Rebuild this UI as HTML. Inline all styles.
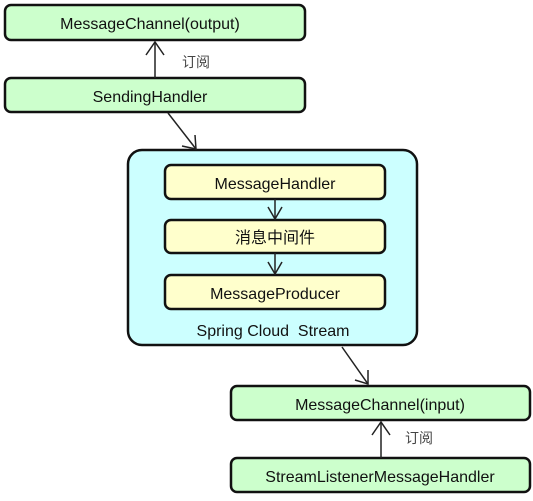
<!DOCTYPE html>
<html><head><style>
body{margin:0;width:533px;height:496px;background:#fff;overflow:hidden}
svg text{font-family:"Liberation Sans","Noto Sans CJK SC",sans-serif;font-size:16px;fill:#111}
</style></head><body>
<svg width="533" height="496" viewBox="0 0 533 496">
<g stroke="#111" stroke-width="2.5">
<rect x="5" y="5" width="300" height="35" rx="6" fill="#ccffcc"/>
<rect x="5" y="78" width="300" height="34" rx="6" fill="#ccffcc"/>
<rect x="128" y="150" width="289" height="195" rx="14" fill="#ccffff"/>
<rect x="165" y="165" width="220" height="34" rx="6" fill="#ffffcc"/>
<rect x="165" y="220" width="220" height="33" rx="6" fill="#ffffcc"/>
<rect x="165" y="275" width="220" height="34" rx="6" fill="#ffffcc"/>
<rect x="231" y="386" width="299" height="34" rx="6" fill="#ccffcc"/>
<rect x="231" y="458" width="299" height="34" rx="6" fill="#ccffcc"/>
</g>
<g stroke="#222" stroke-width="1.5" fill="none">
<line x1="155" y1="78" x2="155" y2="42"/><polyline points="146,55 155,42 164,55"/>
<line x1="168" y1="113" x2="196" y2="149"/><polyline points="182,146 196,149 195,135"/>
<line x1="275" y1="199" x2="275" y2="219"/><polyline points="268,207 275,219 282,207"/>
<line x1="275" y1="253" x2="275" y2="274"/><polyline points="268,262 275,274 282,262"/>
<line x1="342" y1="347" x2="368" y2="384"/><polyline points="355,380 368,384 368,370"/>
<line x1="381" y1="458" x2="381" y2="422"/><polyline points="372,435 381,422 390,435"/>
</g>
<g text-anchor="middle">
<text x="150" y="29">MessageChannel(output)</text>
<text x="150" y="102">SendingHandler</text>
<text x="275" y="189">MessageHandler</text>
<text x="275" y="243" fill="#333">消息中间件</text>
<text x="275" y="299">MessageProducer</text>
<text x="273" y="336">Spring Cloud&#160;&#160;Stream</text>
<text x="380" y="410">MessageChannel(input)</text>
<text x="380" y="482">StreamListenerMessageHandler</text>
</g>
<text x="182" y="67" style="font-size:14px;fill:#444">订阅</text>
<text x="405" y="443" style="font-size:14px;fill:#444">订阅</text>
</svg>
</body></html>
